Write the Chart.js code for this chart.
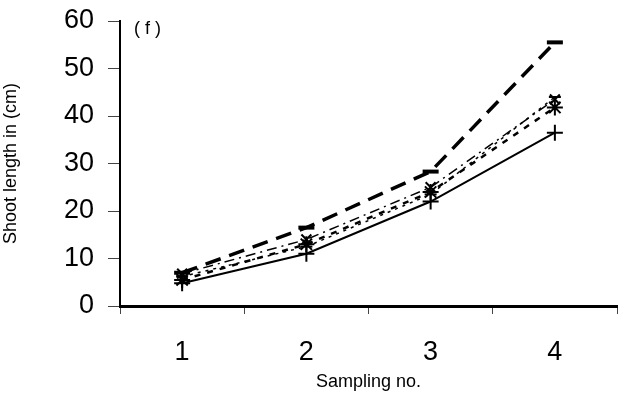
<!DOCTYPE html>
<html>
<head>
<meta charset="utf-8">
<script src="https://cdn.jsdelivr.net/npm/chart.js@4"></script>
<style>
  html, body { margin: 0; padding: 0; background: #fff; }
</style>
</head>
<body>
<canvas id="shootChart" width="631" height="400"></canvas>
<script>
// sampling numbers on the x axis
const samplings = ['1', '2', '3', '4'];
// shoot length (cm) per treatment
const seriesA = [7.0, 16.5, 28.3, 55.5];
const seriesB = [6.8, 14.0, 25.0, 43.5];
const seriesC = [6.2, 12.5, 23.5, 44.0];
const seriesD = [5.5, 13.0, 24.0, 41.8];
const seriesE = [4.8, 11.0, 22.0, 36.5];
const yTicks = [0, 10, 20, 30, 40, 50, 60];

const FONT = "'Liberation Sans', Arial, sans-serif";

// "(f)" panel tag in the corner of the plot
const panelTag = {
    id: 'panelTag',
    afterDraw(chart) {
        const ctx = chart.ctx;
        const area = chart.chartArea;
        ctx.save();
        ctx.fillStyle = '#000';
        ctx.font = '18px ' + FONT;
        ctx.textBaseline = 'middle';
        ctx.fillText('( f )', area.left + 14, area.top + 8);
        ctx.restore();
    }
};

function line(data, opts) {
    return Object.assign({
        data: data,
        borderColor: '#000',
        backgroundColor: '#000',
        pointBorderColor: '#000',
        pointBackgroundColor: '#000',
        fill: false,
        tension: 0
    }, opts);
}

const ctx = document.getElementById('shootChart').getContext('2d');
const shootChart = new Chart(ctx, {
    type: 'line',
    data: {
        labels: samplings,
        datasets: [
            line(seriesA, { label: 'A', borderWidth: 3.5, borderDash: [16, 9], pointStyle: 'line', pointRadius: 8, pointBorderWidth: 4 }),
            line(seriesB, { label: 'B', borderWidth: 1.5, borderDash: [10, 5, 2, 5], pointStyle: 'crossRot', pointRadius: 7, pointBorderWidth: 2 }),
            line(seriesC, { label: 'C', borderWidth: 1.5, borderDash: [3, 5], pointStyle: 'line', pointRadius: 6, pointBorderWidth: 2 }),
            line(seriesD, { label: 'D', borderWidth: 2.5, borderDash: [6, 7], pointStyle: 'star', pointRadius: 8, pointBorderWidth: 2 }),
            line(seriesE, { label: 'E', borderWidth: 2, pointStyle: 'cross', pointRadius: 8, pointBorderWidth: 2 })
        ]
    },
    options: {
        responsive: false,
        animation: false,
        devicePixelRatio: 1,
        layout: { padding: { top: 21, right: 14, left: 0, bottom: 0 } },
        plugins: {
            legend: { display: false },
            tooltip: { enabled: false }
        },
        scales: {
            x: {
                offset: true,
                grid: { offset: true, drawOnChartArea: false, drawTicks: true, tickLength: 8, color: '#444', lineWidth: 1 },
                border: { color: '#000', width: 3 },
                ticks: { color: '#000', font: { family: FONT, size: 27 }, padding: 22 },
                title: { display: true, text: 'Sampling no.', color: '#000', font: { family: FONT, size: 18 }, padding: { top: 0, bottom: 7 } },
                afterFit(scale) { scale.height = 94; }
            },
            y: {
                min: yTicks[0],
                max: yTicks[yTicks.length - 1],
                afterBuildTicks(scale) { scale.ticks = yTicks.map(v => ({ value: v })); },
                grid: { drawOnChartArea: false, drawTicks: true, tickLength: 12, color: '#444', lineWidth: 1 },
                border: { color: '#000', width: 2 },
                ticks: { color: '#000', font: { family: FONT, size: 27 }, padding: 14 },
                title: { display: true, text: 'Shoot length in (cm)', color: '#000', font: { family: FONT, size: 18 }, padding: { top: 0, bottom: 12 } },
                afterFit(scale) {
                    scale.width = 120;
                    scale.paddingTop = 10;
                    scale.paddingBottom = 10;
                }
            }
        }
    },
    plugins: [panelTag]
});
</script>
</body>
</html>
